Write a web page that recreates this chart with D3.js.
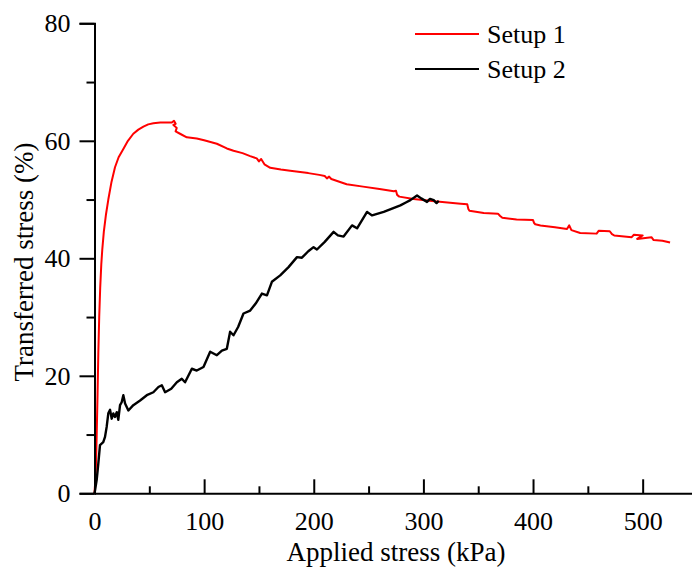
<!DOCTYPE html>
<html>
<head>
<meta charset="utf-8">
<script src="https://cdn.jsdelivr.net/npm/d3@7"></script>
<style>
	body { margin: 0; background: #fff; }
	text { font-family: "Liberation Serif", "Times New Roman", serif; fill: #000; }
</style>
</head>
<body>
<div id="graph"></div>
<script>
// applied stress (kPa) vs transferred stress (%)
const setup1Data = [
	[0, 0], [1, 3], [1.5, 6], [2, 10], [2.8, 17], [3.5, 24], [4.3, 30], [5.2, 35], [6.2, 39],
	[7.1, 41.5], [8.5, 44.5], [10.5, 47.5], [12.6, 50], [15.5, 53], [18.7, 55.5], [22, 57.2],
	[26.3, 58.6], [30.5, 60], [35.4, 61.2], [40, 61.9], [44.6, 62.4], [49, 62.8], [53.7, 63],
	[60, 63.1], [66, 63.1], [70.5, 63.1], [72.5, 63.4], [74, 62.9], [72, 62.7], [75, 62.2],
	[74, 61.6], [78, 61.2], [84.2, 60.6], [93.3, 60.4], [100, 60.1], [111.6, 59.5], [120.7, 58.7],
	[126.8, 58.3], [135, 57.9], [142, 57.4], [148, 57], [150, 56.5], [152, 56.9], [155, 56],
	[160.3, 55.4], [170, 55.1], [178.5, 54.9], [195, 54.5], [205, 54.2], [210, 54], [212, 53.6],
	[214, 53.9], [216, 53.5], [230, 52.6], [245, 52.2], [260, 51.8], [273, 51.4], [275, 51.5],
	[276, 50.8], [278, 50.5], [291, 50.1], [310, 49.7], [334, 49.3], [340, 49.2], [341, 48.4],
	[342, 48.1], [355, 47.7], [368, 47.6], [370, 47.2], [372, 46.9], [385, 46.6], [400, 46.5],
	[401, 46], [402, 45.8], [406.8, 45.6], [420, 45.3], [431, 45.0], [433, 45.6], [435, 44.8],
	[443, 44.3], [458, 44.2], [460, 44.7], [470, 44.6], [472, 44.1], [474, 43.9], [490, 43.6],
	[492, 44], [500, 43.9], [495, 43.3], [508, 43.6], [510, 43.1], [518, 43.0], [525, 42.7]
];

const setup2Data = [
	[0, 0], [0.5, 0.5], [2, 2.3], [3.5, 5.1], [5, 8.2], [8, 8.7], [9.6, 9.6], [11.1, 11.3],
	[12.6, 13.6], [14.2, 14.2], [15.7, 12.7], [17.2, 13.6], [18.7, 13.0], [20.3, 13.8],
	[21.7, 12.5], [23.3, 15.0], [24.8, 15.5], [26.3, 16.7], [27.9, 15.3], [30.9, 14.1],
	[35.4, 15.0], [41.6, 15.8], [47.7, 16.7], [53.7, 17.2], [58.3, 18.1], [61.4, 18.4],
	[64.4, 17.2], [70, 17.8], [75.1, 18.9], [79.6, 19.5], [82.6, 18.9], [88.8, 21.2], [93.3, 20.9],
	[99.4, 21.5], [105.5, 24.1], [111.6, 23.5], [116.2, 24.3], [120.7, 24.6], [123.7, 27.5],
	[126.8, 26.9], [131, 28.3], [135.9, 30.6], [142, 31.1], [147, 32.3], [152.7, 34.0],
	[157.3, 33.7], [161.8, 36.0], [169.4, 37.1], [177, 38.5], [184.7, 40.2], [189.2, 40.1],
	[195, 41.2], [199.8, 41.9], [202.9, 41.5], [210, 42.8], [218.1, 44.5], [222, 43.9],
	[227.2, 43.7], [234.9, 45.6], [239.5, 45.1], [248.6, 47.9], [253.2, 47.3], [263.8, 47.9],
	[272, 48.5], [279, 49.0], [284, 49.5], [288.1, 49.9], [294.2, 50.7], [298, 50.2],
	[303.3, 49.6], [306, 50.1], [309.4, 49.9], [312, 49.4], [314, 49.8]
];

const seriesNames = ['Setup 1', 'Setup 2'];
const seriesColors = ['#ff0000', '#000000'];
const xTicks = [0, 100, 200, 300, 400, 500];
const xMinorTicks = [50, 150, 250, 350, 450];
const yTicks = [0, 20, 40, 60, 80];
const yMinorTicks = [10, 30, 50, 70];

const svgWidth = 692;
const svgHeight = 573;
const fontFamily = '"Liberation Serif", "Times New Roman", serif';

const svg = d3.select('#graph').append('svg')
	.attr('width', svgWidth)
	.attr('height', svgHeight);

const xScale = d3.scaleLinear()
	.domain([0, 545])
	.range([94.5, 692]);

const yScale = d3.scaleLinear()
	.domain([0, 80])
	.range([493.3, 23.3]);

// lines
const line = d3.line()
	.x(d => xScale(d[0]))
	.y(d => yScale(d[1]));

svg.append('path')
	.datum(setup1Data)
	.attr('d', line)
	.attr('fill', 'none')
	.attr('stroke', seriesColors[0])
	.attr('stroke-width', 2)
	.attr('stroke-linejoin', 'round');

svg.append('path')
	.datum(setup2Data)
	.attr('d', line)
	.attr('fill', 'none')
	.attr('stroke', seriesColors[1])
	.attr('stroke-width', 2.4)
	.attr('stroke-linejoin', 'round');

// axes
const yAxis = d3.axisLeft(yScale)
	.tickValues(yTicks)
	.tickSize(15)
	.tickPadding(9)
	.tickFormat(d3.format('d'));

svg.append('g')
	.attr('transform', `translate(${xScale(0)}, 0)`)
	.call(yAxis)
	.attr('font-family', fontFamily)
	.attr('font-size', 26);

svg.append('g')
	.attr('transform', `translate(${xScale(0)}, 0)`)
	.call(d3.axisLeft(yScale).tickValues(yMinorTicks).tickSize(8).tickFormat(''))
	.select('.domain').remove();

const xAxis = d3.axisBottom(xScale)
	.tickValues(xTicks)
	.tickSizeInner(-14)
	.tickSizeOuter(0)
	.tickPadding(18)
	.tickFormat(d3.format('d'));

svg.append('g')
	.attr('transform', `translate(0, ${yScale(0)})`)
	.call(xAxis)
	.attr('font-family', fontFamily)
	.attr('font-size', 26);

svg.append('g')
	.attr('transform', `translate(0, ${yScale(0)})`)
	.call(d3.axisBottom(xScale).tickValues(xMinorTicks).tickSizeInner(-7).tickSizeOuter(0).tickFormat(''))
	.select('.domain').remove();

svg.selectAll('.domain, .tick line')
	.attr('stroke', '#000')
	.attr('stroke-width', 2);

// titles
svg.append('text')
	.attr('x', 396)
	.attr('y', 561)
	.attr('text-anchor', 'middle')
	.style('font-size', '27px')
	.text('Applied stress (kPa)');

svg.append('text')
	.attr('transform', 'translate(33, 262) rotate(-90)')
	.attr('text-anchor', 'middle')
	.style('font-size', '27px')
	.text('Transferred stress (%)');

// legend
const legend = svg.append('g');
seriesNames.forEach((name, i) => {
	const y = 34 + i * 35;
	legend.append('line')
		.attr('x1', 415).attr('x2', 479)
		.attr('y1', y).attr('y2', y)
		.attr('stroke', seriesColors[i])
		.attr('stroke-width', 2);
	legend.append('text')
		.attr('x', 487)
		.attr('y', y + 9)
		.style('font-size', '26px')
		.text(name);
});
</script>
</body>
</html>
